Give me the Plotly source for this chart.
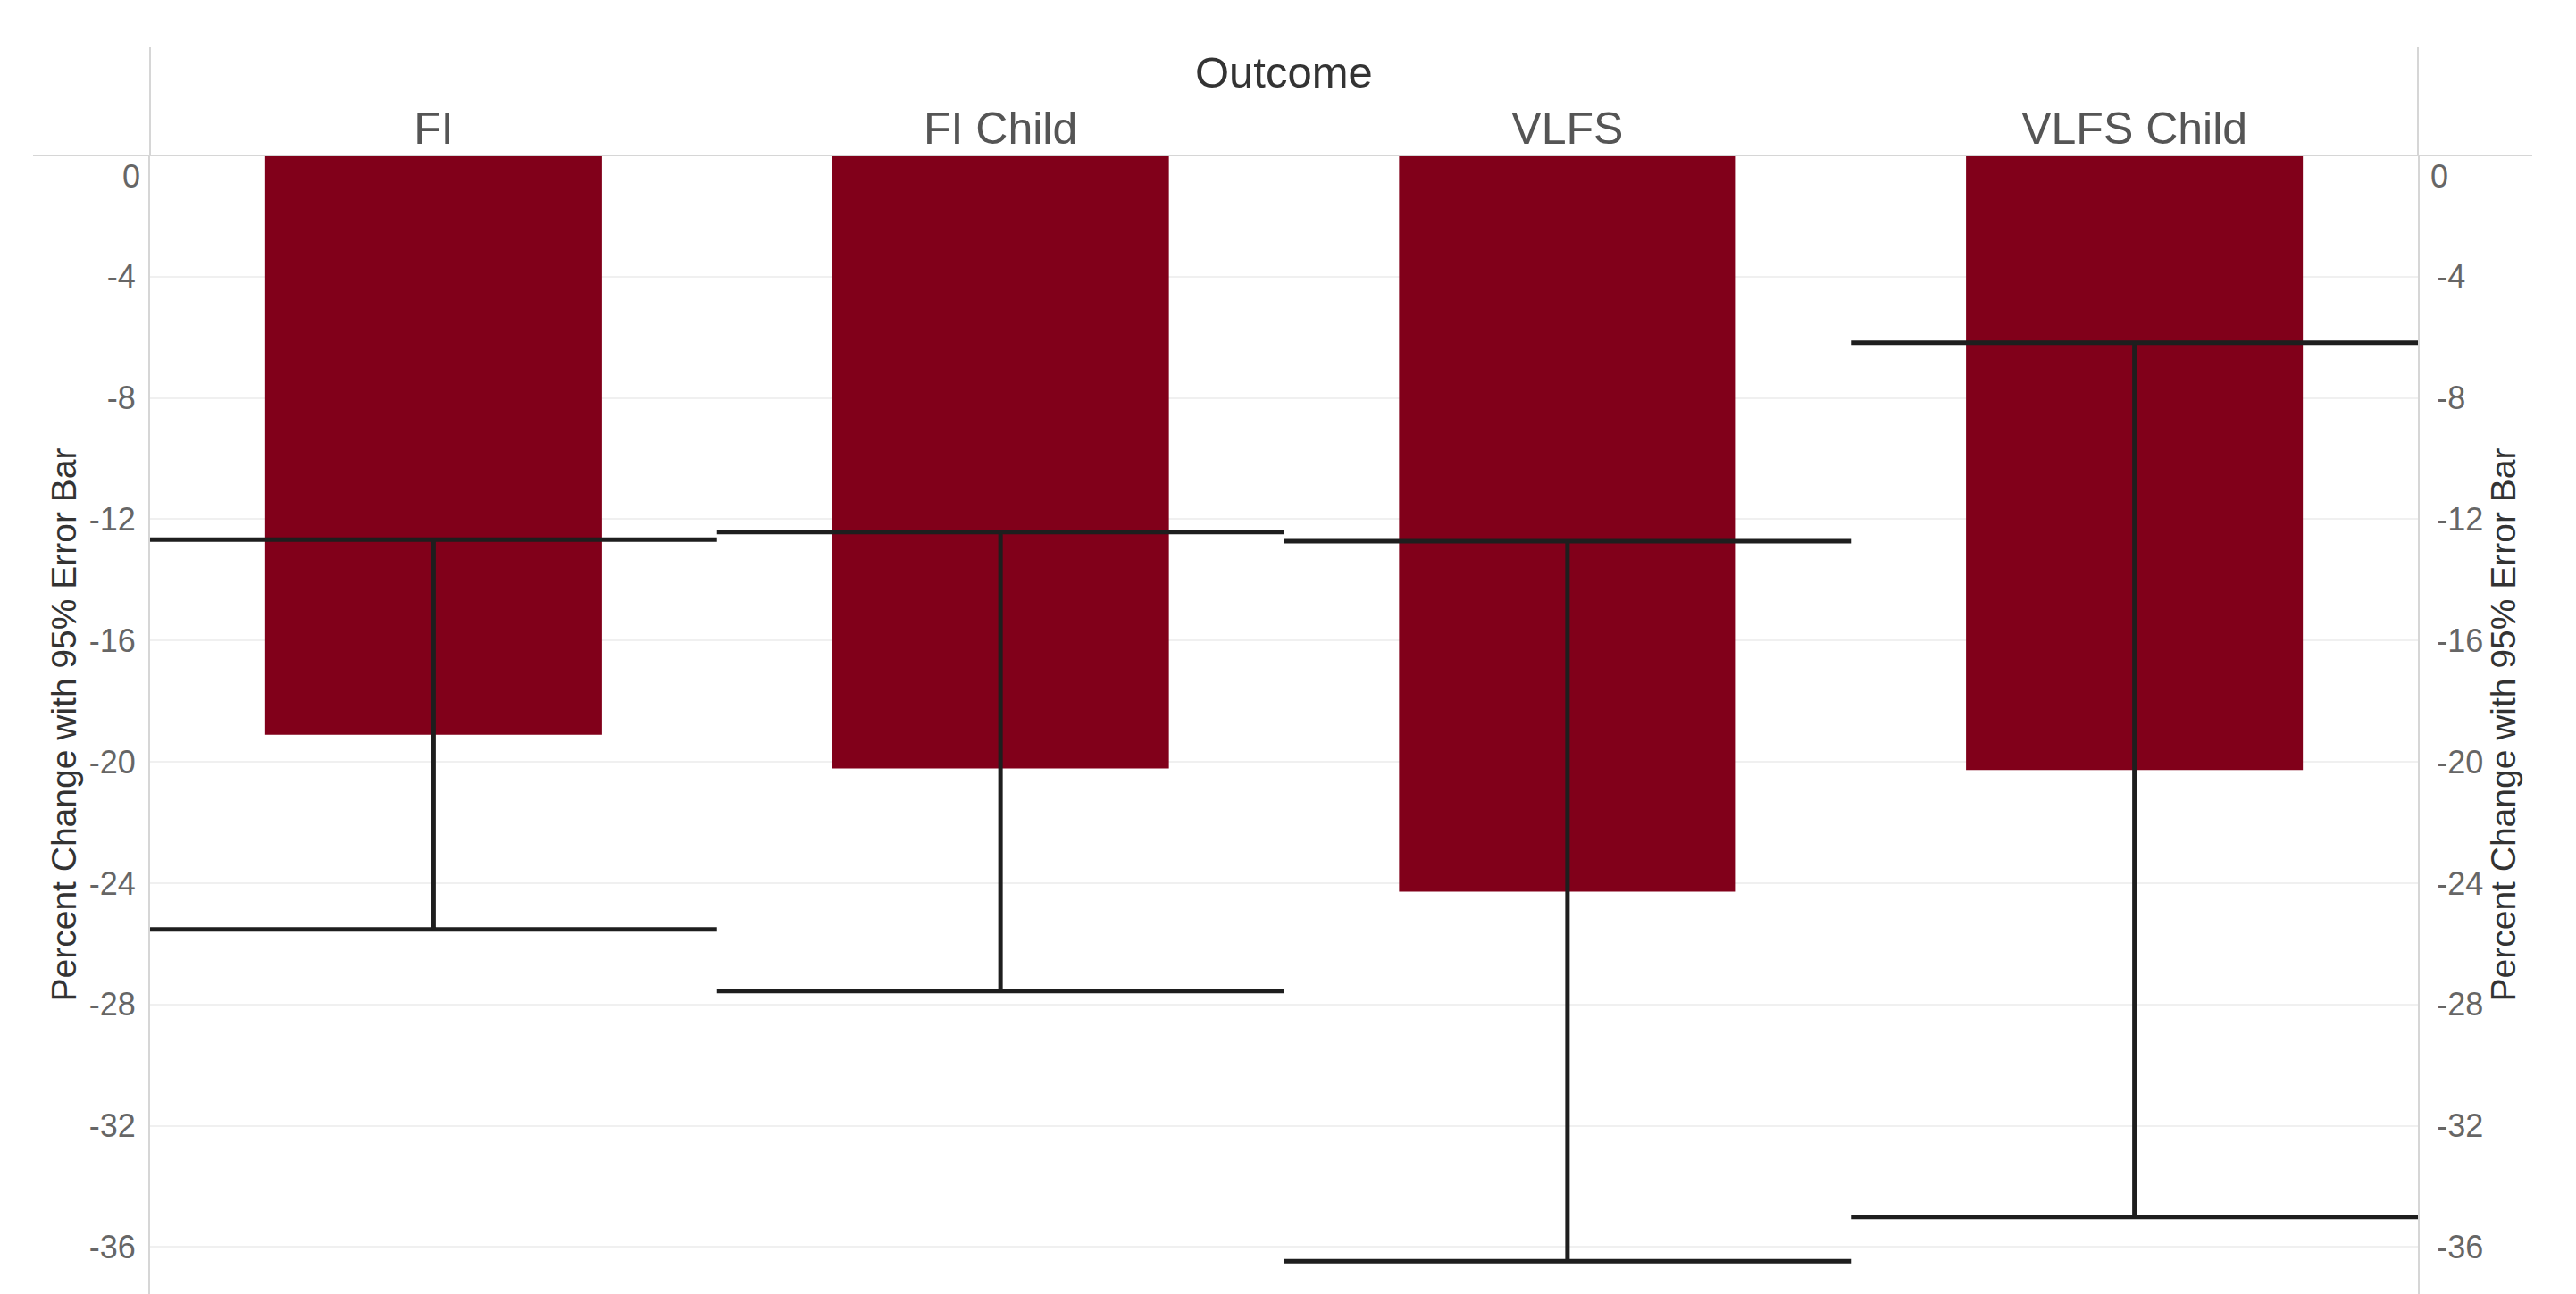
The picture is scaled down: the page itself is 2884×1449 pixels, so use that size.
import plotly.graph_objects as go

# Outcome categories and their estimated percent change
categories = ["FI", "FI Child", "VLFS", "VLFS Child"]
pct_change = [-19.11, -20.22, -24.28, -20.27]

# 95% interval bounds for each outcome
ci_upper = [-12.67, -12.42, -12.72, -6.18]
ci_lower = [-25.53, -27.56, -36.47, -35.01]

# Value-axis ticks (0 is labelled separately, just under the header rule)
tick_values = [-4, -8, -12, -16, -20, -24, -28, -32, -36]
tick_labels = ["-4", "-8", "-12", "-16", "-20", "-24", "-28", "-32", "-36"]
zero_label = "0"

axis_title = "Percent Change with 95% Error Bar"
header_title = "Outcome"

W, H = 2884, 1449
M_L, M_R, M_T, M_B = 168, 177, 174, 0
plot_w = W - M_L - M_R
plot_h = H - M_T - M_B
col_w = plot_w / len(categories)

FONT = "Arial, 'Liberation Sans', sans-serif"
BAR_COLOR = "#81001A"
ERR_COLOR = "#1E1E1E"
RULE_COLOR = "#D6D6D6"
GRID_COLOR = "#F0F0F0"
TICK_COLOR = "#666666"

y_range = [-37.55, 0]

err_plus = [hi - v for hi, v in zip(ci_upper, pct_change)]
err_minus = [v - lo for lo, v in zip(ci_lower, pct_change)]

fig = go.Figure()

fig.add_trace(go.Bar(
    x=categories,
    y=pct_change,
    marker=dict(color=BAR_COLOR, line=dict(width=0)),
    error_y=dict(
        type="data",
        symmetric=False,
        array=err_plus,
        arrayminus=err_minus,
        color=ERR_COLOR,
        thickness=5,
        width=col_w / 2,
    ),
    hoverinfo="x+y",
    showlegend=False,
))

# invisible companion trace so the right-hand axis is drawn
fig.add_trace(go.Scatter(
    x=categories,
    y=pct_change,
    yaxis="y2",
    mode="markers",
    marker=dict(opacity=0),
    hoverinfo="skip",
    showlegend=False,
))


def value_axis(label_standoff, title_standoff):
    return dict(
        range=y_range,
        tickmode="array",
        tickvals=tick_values,
        ticktext=tick_labels,
        tickfont=dict(family=FONT, size=36, color=TICK_COLOR),
        ticks="",
        ticklabelstandoff=label_standoff,
        zeroline=False,
        showline=True,
        linecolor=RULE_COLOR,
        linewidth=2,
        automargin=False,
        fixedrange=True,
        title=dict(
            text=axis_title,
            font=dict(family=FONT, size=39, color="#333333"),
            standoff=title_standoff,
        ),
    )


fig.update_layout(
    width=W,
    height=H,
    autosize=False,
    margin=dict(l=M_L, r=M_R, t=M_T, b=M_B, pad=0),
    paper_bgcolor="white",
    plot_bgcolor="white",
    bargap=0.406,
    font=dict(family=FONT),
    xaxis=dict(
        side="top",
        type="category",
        tickfont=dict(family=FONT, size=50, color="#555555"),
        ticks="",
        ticklabelstandoff=2,
        showgrid=False,
        showline=False,
        zeroline=False,
        automargin=False,
        fixedrange=True,
    ),
    yaxis=dict(
        **value_axis(7, 2),
        side="left",
        showgrid=True,
        gridcolor=GRID_COLOR,
        gridwidth=2,
    ),
    yaxis2=dict(
        **value_axis(12, 9),
        side="right",
        overlaying="y",
        matches="y",
        showgrid=False,
    ),
)

# header rule along the zero line and the axis rules rising into the header
hdr_top = 1 + (M_T - 53) / plot_h
fig.add_shape(type="line", xref="paper", yref="y",
              x0=(37 - M_L) / plot_w, x1=(2835 - M_L) / plot_w, y0=0, y1=0,
              line=dict(color=RULE_COLOR, width=2), layer="above")
for xp in (0, 1):
    fig.add_shape(type="line", xref="paper", yref="paper",
                  x0=xp, x1=xp, y0=1, y1=hdr_top,
                  line=dict(color=RULE_COLOR, width=2), layer="above")

# header title above the outcome labels
fig.add_annotation(
    text=header_title, xref="paper", yref="paper",
    x=0.5, y=1 + (M_T - 81) / plot_h, xanchor="center", yanchor="middle",
    showarrow=False, font=dict(family=FONT, size=49, color="#333333"),
)

# zero labels sit just below the header rule on both value axes
for xp, anchor, shift in ((0, "right", -9), (1, "left", 12)):
    fig.add_annotation(
        text=zero_label, xref="paper", yref="y",
        x=xp, y=0, xanchor=anchor, yanchor="middle",
        xshift=shift, yshift=-23, showarrow=False,
        font=dict(family=FONT, size=36, color=TICK_COLOR),
    )

fig.write_html("out.html")
